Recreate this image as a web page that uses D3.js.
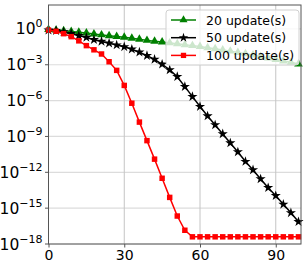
<!DOCTYPE html>
<html>
<head>
<meta charset="utf-8">
<script src="https://cdn.jsdelivr.net/npm/d3@7"></script>
<style>
  body { margin: 0; background: #fff; }
  svg { font-family: "DejaVu Sans", sans-serif; }
</style>
</head>
<body>
<svg width="306" height="268"></svg>
<script>
// iterations (every 3rd step is plotted)
const steps = d3.range(0, 100, 3);

// log10 of the error
const green20 = [-0.05, -0.1, -0.15, -0.22, -0.28, -0.35, -0.42, -0.5, -0.57, -0.64, -0.7, -0.78, -0.86, -0.96, -1.04, -1.1, -1.17,
  -1.24, -1.32, -1.4, -1.48, -1.57, -1.66, -1.76, -1.86, -1.97, -2.08, -2.19, -2.31, -2.43, -2.56, -2.68, -2.8, -2.93];
const black50 = [-0.1, -0.15, -0.25, -0.4, -0.56, -0.72, -0.9, -1.05, -1.2, -1.35, -1.5, -1.7, -1.95, -2.24, -2.55, -2.96, -3.43,
  -4.0, -4.83, -5.67, -6.5, -7.29, -8.04, -8.79, -9.55, -10.3, -11.1, -11.8, -12.56, -13.29, -13.96, -14.68, -15.39, -16.14];
const red100 = [-0.1, -0.2, -0.4, -0.65, -1.0, -1.4, -1.75, -2.1, -2.75, -3.47, -4.73, -6.22, -7.8, -9.35, -10.9, -12.5, -14.1,
  -15.66, -16.85, -17.4, -17.4, -17.4, -17.4, -17.4, -17.4, -17.4, -17.4, -17.4, -17.4, -17.4, -17.4, -17.4, -17.4, -17.4];

const seriesNames = ['20 update(s)', '50 update(s)', '100 update(s)'];
const seriesColors = ['#008000', '#000000', '#ff0000'];
const seriesMarkers = [d3.symbolTriangle, d3.symbolStar, d3.symbolSquare];
const xTicks = [0, 30, 60, 90];
const yTickExps = [0, -3, -6, -9, -12, -15, -18];

const svg = d3.select('svg');
const mLeft = 48.5, mRight = 301, mTop = 5, mBottom = 244;

const x = d3.scaleLinear().domain([0, 100]).range([mLeft, mRight]);
const y = d3.scaleLog().domain([1e-18, 1e2]).range([mBottom, mTop]);

// grid
svg.append('g').selectAll('line')
  .data(yTickExps)
  .join('line')
  .attr('x1', mLeft).attr('x2', mRight)
  .attr('y1', d => y(Math.pow(10, d))).attr('y2', d => y(Math.pow(10, d)))
  .attr('stroke', '#dcdcdc').attr('stroke-width', 1.2);

svg.append('g').selectAll('line')
  .data(xTicks)
  .join('line')
  .attr('x1', d => x(d)).attr('x2', d => x(d))
  .attr('y1', mTop).attr('y2', mBottom)
  .attr('stroke', '#c4c4c4').attr('stroke-width', 1);

// series
const all = [green20, black50, red100];
const line = d3.line().x((d, i) => x(steps[i])).y(d => y(Math.pow(10, d)));

all.forEach((vals, k) => {
  const g = svg.append('g');
  g.append('path')
    .attr('d', line(vals))
    .attr('fill', 'none')
    .attr('stroke', seriesColors[k])
    .attr('stroke-width', 1.5);
  const sym = d3.symbol().type(seriesMarkers[k]).size(k === 2 ? 30 : 32);
  g.selectAll('path.m')
    .data(vals)
    .join('path')
    .attr('class', 'm')
    .attr('transform', (d, i) => `translate(${x(steps[i])},${y(Math.pow(10, d))})`)
    .attr('d', sym)
    .attr('fill', seriesColors[k]);
});

// frame
svg.append('rect')
  .attr('x', mLeft).attr('y', mTop)
  .attr('width', mRight - mLeft).attr('height', mBottom - mTop)
  .attr('fill', 'none').attr('stroke', '#555').attr('stroke-width', 1);

// x axis
const xAxis = d3.axisBottom(x).tickValues(xTicks).tickSize(3.5).tickPadding(3);
const xg = svg.append('g').attr('transform', `translate(0,${mBottom})`).call(xAxis);
xg.select('.domain').remove();
xg.selectAll('line').attr('stroke', '#555');
xg.selectAll('text').attr('font-size', 14).attr('fill', '#000')
  .attr('font-family', '"DejaVu Sans", sans-serif');

// y axis with superscript labels
const yg = svg.append('g');
yg.selectAll('line')
  .data(yTickExps)
  .join('line')
  .attr('x1', mLeft - 3.5).attr('x2', mLeft)
  .attr('y1', d => y(Math.pow(10, d))).attr('y2', d => y(Math.pow(10, d)))
  .attr('stroke', '#555');
const lab = yg.selectAll('text')
  .data(yTickExps)
  .join('text')
  .attr('x', mLeft - 6)
  .attr('y', d => y(Math.pow(10, d)) + 5.5)
  .attr('text-anchor', 'end')
  .attr('font-size', 15.5);
lab.append('tspan').text('10');
lab.append('tspan').attr('dy', -7).attr('font-size', 11)
  .text(d => d === 0 ? '0' : '\u2212' + (-d));

// legend
const lg = svg.append('g').attr('transform', 'translate(166,10)');
lg.append('rect')
  .attr('width', 133).attr('height', 55).attr('rx', 3)
  .attr('fill', '#fff').attr('fill-opacity', 0.8)
  .attr('stroke', '#d0d0d0');
seriesNames.forEach((name, k) => {
  const yy = 10 + k * 17.7;
  lg.append('line').attr('x1', 5).attr('x2', 30).attr('y1', yy).attr('y2', yy)
    .attr('stroke', seriesColors[k]).attr('stroke-width', 1.5);
  lg.append('path').attr('transform', `translate(17.5,${yy})`)
    .attr('d', d3.symbol().type(seriesMarkers[k]).size(28))
    .attr('fill', seriesColors[k]);
  lg.append('text').attr('x', 40).attr('y', yy + 4.5)
    .attr('font-size', 12.5).text(name);
});
</script>
</body>
</html>
